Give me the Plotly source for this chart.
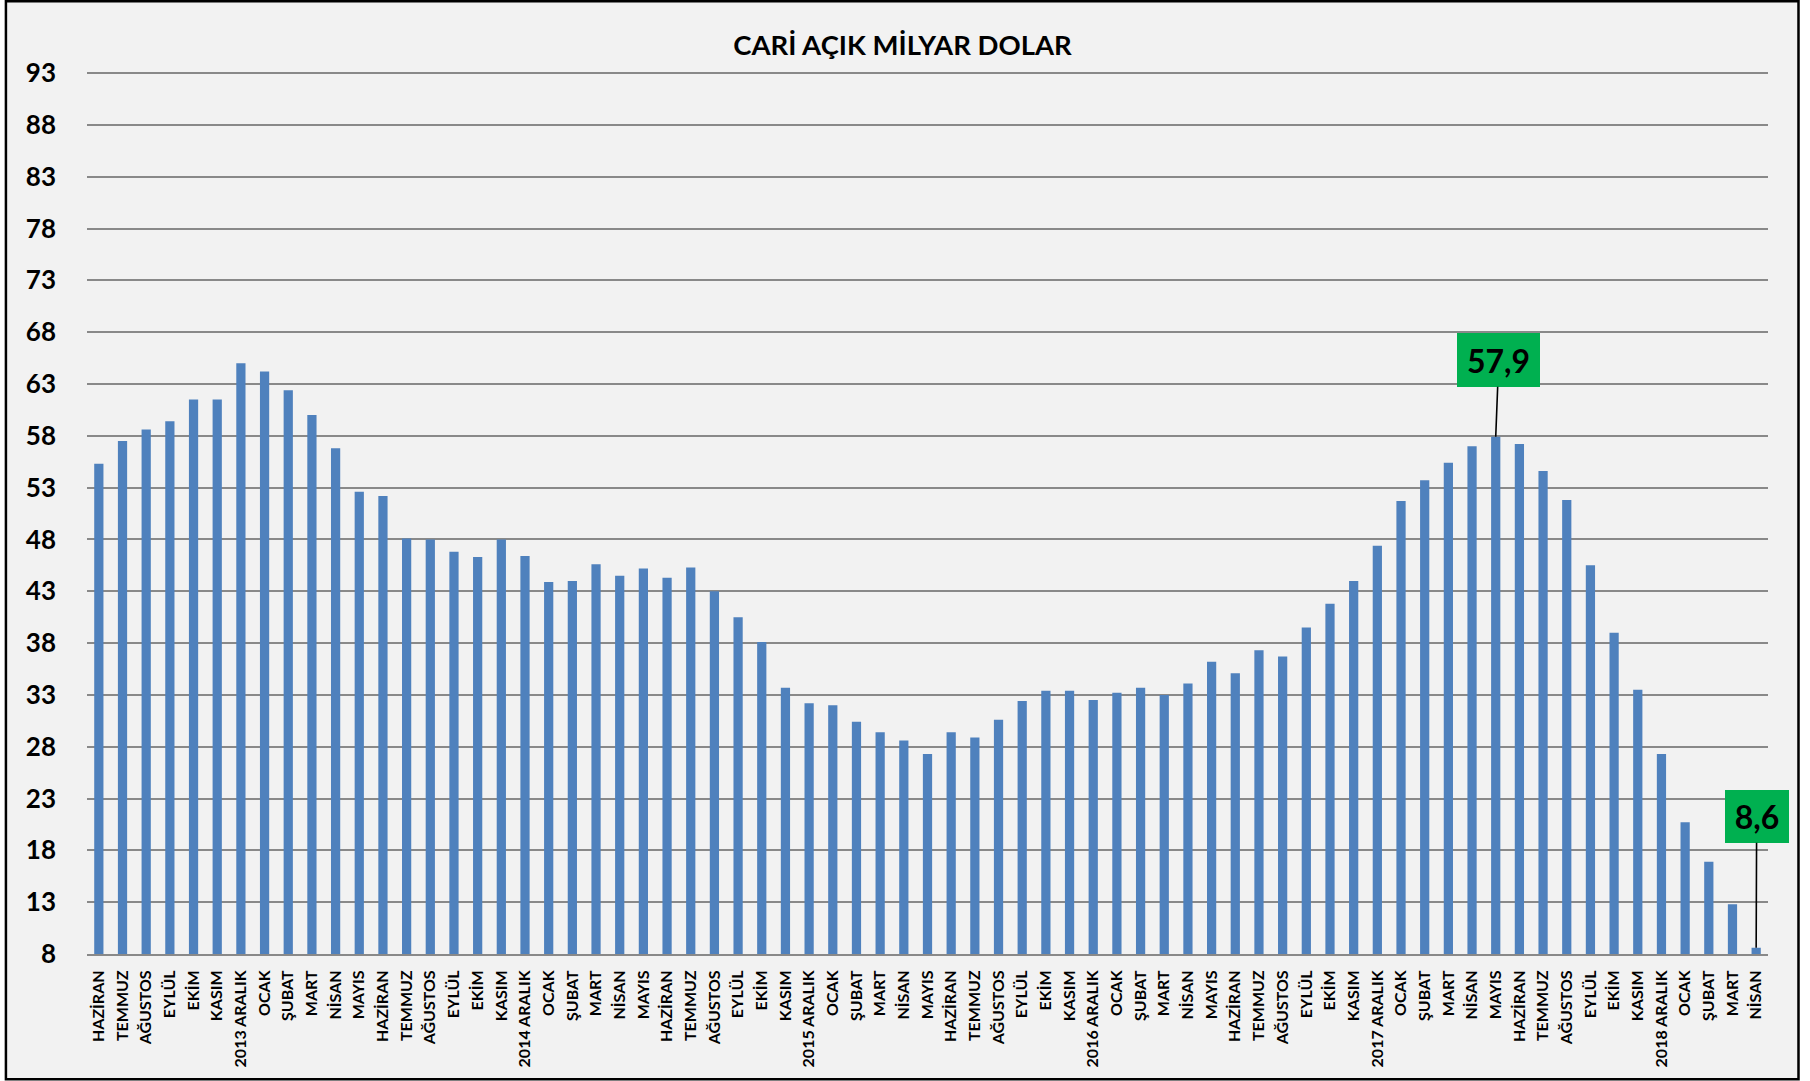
import plotly.graph_objects as go

labels = [
    "HAZİRAN", "TEMMUZ", "AĞUSTOS", "EYLÜL", "EKİM", "KASIM", "2013 ARALIK",
    "OCAK", "ŞUBAT", "MART", "NİSAN", "MAYIS", "HAZİRAN", "TEMMUZ", "AĞUSTOS", "EYLÜL", "EKİM", "KASIM", "2014 ARALIK",
    "OCAK", "ŞUBAT", "MART", "NİSAN", "MAYIS", "HAZİRAN", "TEMMUZ", "AĞUSTOS", "EYLÜL", "EKİM", "KASIM", "2015 ARALIK",
    "OCAK", "ŞUBAT", "MART", "NİSAN", "MAYIS", "HAZİRAN", "TEMMUZ", "AĞUSTOS", "EYLÜL", "EKİM", "KASIM", "2016 ARALIK",
    "OCAK", "ŞUBAT", "MART", "NİSAN", "MAYIS", "HAZİRAN", "TEMMUZ", "AĞUSTOS", "EYLÜL", "EKİM", "KASIM", "2017 ARALIK",
    "OCAK", "ŞUBAT", "MART", "NİSAN", "MAYIS", "HAZİRAN", "TEMMUZ", "AĞUSTOS", "EYLÜL", "EKİM", "KASIM", "2018 ARALIK",
    "OCAK", "ŞUBAT", "MART", "NİSAN",
]

values = [
    55.3, 57.5, 58.6, 59.4, 61.5, 61.5, 65.0,
    64.2, 62.4, 60.0, 56.8, 52.6, 52.2, 48.1, 48.0, 46.8, 46.3, 48.0, 46.4,
    43.9, 44.0, 45.6, 44.5, 45.2, 44.3, 45.3, 43.0, 40.5, 38.1, 33.7, 32.2,
    32.0, 30.4, 29.4, 28.6, 27.3, 29.4, 28.9, 30.6, 32.4, 33.4, 33.4, 32.5,
    33.2, 33.7, 33.0, 34.1, 36.2, 35.1, 37.3, 36.7, 39.5, 41.8, 44.0, 47.4,
    51.7, 53.7, 55.4, 57.0, 57.9, 57.2, 54.6, 51.8, 45.5, 39.0, 33.5, 27.3,
    20.7, 16.9, 12.8, 8.6,
]

y_ticks = list(range(8, 94, 5))

callout_index = [59, 70]
callout_text = ["57,9", "8,6"]

x = list(range(len(values)))

FONT = "Lato, 'Open Sans', sans-serif"
W, H = 1810, 1081
Y_TOP = 93.1
L, R, B = 86.6, 42, 126.7
T = 73.3 - (Y_TOP - 93) * (881.0 / 85.0)
pw = W - L - R
ph = H - T - B

fig = go.Figure()
fig.add_trace(go.Bar(
    x=x, y=values,
    marker=dict(color="#4f81bd", line=dict(width=0)),
    hoverinfo="x+y",
))

def px_to_paper_x(p):
    return (p - L) / pw

def px_to_paper_y(p):
    return (H - B - p) / ph

# outer chart border / background
fig.add_shape(
    type="rect", xref="paper", yref="paper",
    x0=px_to_paper_x(5.5), x1=px_to_paper_x(1798.5),
    y0=px_to_paper_y(1079.5), y1=px_to_paper_y(1.5),
    fillcolor="#f2f2f2", line=dict(color="#000000", width=2.5),
    layer="below",
)

offsets = [(3, -77), (0.5, -131.6)]
box_sizes = [(83, 54), (64, 53)]
for idx, txt, (ax, ay), (bw, bh) in zip(callout_index, callout_text, offsets, box_sizes):
    fig.add_annotation(
        x=idx, y=values[idx], xref="x", yref="y",
        text="<b>%s</b>" % txt,
        font=dict(family=FONT, size=32, color="#000000"),
        bgcolor="#00b050", borderpad=0, borderwidth=0,
        width=bw, height=bh,
        showarrow=True, arrowhead=0, arrowwidth=1.6, arrowcolor="#000000",
        ax=ax, ay=ay, axref="pixel", ayref="pixel", standoff=0,
    )

fig.update_layout(
    width=W, height=H,
    autosize=False,
    margin=dict(l=L, r=R, t=T, b=B, pad=0),
    paper_bgcolor="#ffffff",
    plot_bgcolor="rgba(0,0,0,0)",
    bargap=0.61,
    showlegend=False,
    title=dict(
        text="<b>CARİ AÇIK MİLYAR DOLAR</b>",
        font=dict(family=FONT, size=27.5, color="#000000"),
        x=902.5 / W, xanchor="center", xref="container",
        y=1 - 45 / H, yanchor="middle", yref="container",
    ),
    xaxis=dict(
        range=[-0.5, len(values) - 0.5],
        tickmode="array", tickvals=x, ticktext=["<b>%s</b>" % s for s in labels],
        tickangle=-90,
        tickfont=dict(family=FONT, size=16, color="#000000"),
        showgrid=False, zeroline=False,
        showline=True, linecolor="#898989", linewidth=2,
        ticks="", ticklabelstandoff=8,
        fixedrange=True,
    ),
    yaxis=dict(
        range=[8, Y_TOP],
        tickmode="array", tickvals=y_ticks, ticktext=["<b>%d</b>" % v for v in y_ticks],
        tickfont=dict(family=FONT, size=26, color="#000000"),
        showgrid=True, gridcolor="#898989", gridwidth=2,
        zeroline=False, showline=False,
        ticks="", ticklabelstandoff=30,
        fixedrange=True,
    ),
)

fig.write_html(
    "out.html",
    config={"displayModeBar": False},
    post_script="document.body.style.margin='0';",
)
